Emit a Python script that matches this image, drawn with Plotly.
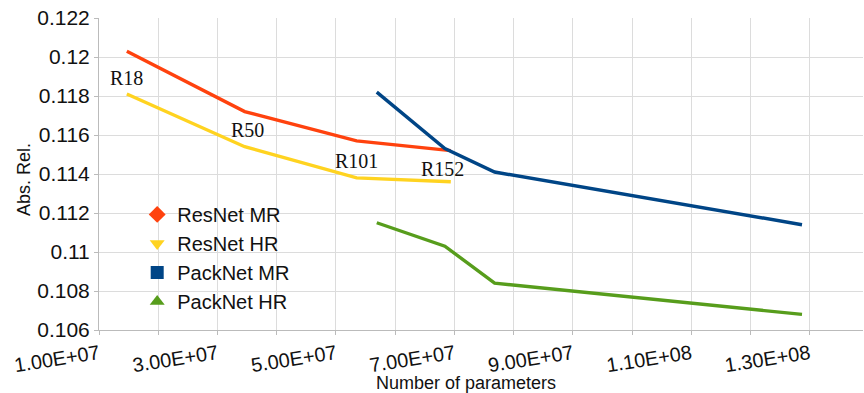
import plotly.graph_objects as go

resnet_labels = ["R18", "R50", "R101", "R152"]
resnet_params = [1.47e7, 3.46e7, 5.35e7, 6.94e7]
resnet_mr = [0.1203, 0.1172, 0.1157, 0.1152]
resnet_hr = [0.1181, 0.1154, 0.1138, 0.1136]

packnet_params = [5.69e7, 6.84e7, 7.68e7, 1.287e8]
packnet_mr = [0.1182, 0.1153, 0.1141, 0.1114]
packnet_hr = [0.1115, 0.1103, 0.1084, 0.1068]

x_tickvals = [1e7, 3e7, 5e7, 7e7, 9e7, 1.1e8, 1.3e8]
x_ticktext = ["1.00E+07", "3.00E+07", "5.00E+07", "7.00E+07", "9.00E+07", "1.10E+08", "1.30E+08"]
y_tickvals = [0.106, 0.108, 0.110, 0.112, 0.114, 0.116, 0.118, 0.120, 0.122]
y_ticktext = ["0.106", "0.108", "0.11", "0.112", "0.114", "0.116", "0.118", "0.12", "0.122"]

series = [
    ("ResNet MR", resnet_params, resnet_mr, "#FF420E", "diamond"),
    ("ResNet HR", resnet_params, resnet_hr, "#FFD320", "triangle-down"),
    ("PackNet MR", packnet_params, packnet_mr, "#004586", "square"),
    ("PackNet HR", packnet_params, packnet_hr, "#579D1C", "triangle-up"),
]

fig = go.Figure()
for name, xs, ys, color, sym in series:
    fig.add_trace(go.Scatter(x=xs, y=ys, mode="lines", name=name,
                             line=dict(color=color, width=3.4),
                             showlegend=False, hoverinfo="skip"))
for name, xs, ys, color, sym in series:
    fig.add_trace(go.Scatter(x=[None], y=[None], mode="markers", name=name,
                             marker=dict(color=color, symbol=sym, size=13)))

label_shift = [(0, 16), (3, 17), (0, 17), (-8, 13)]
for lab, xv, yv, (dx, dy) in zip(resnet_labels, resnet_params, resnet_hr, label_shift):
    fig.add_annotation(x=xv, y=yv, text=lab, showarrow=False, xshift=dx, yshift=dy,
                       font=dict(family="Liberation Serif", size=20, color="#111"))

fig.add_annotation(xref="paper", yref="paper", x=0.48, y=-0.17, yanchor="middle",
                   text="Number of parameters", showarrow=False,
                   font=dict(size=18, color="#111"))
fig.add_annotation(xref="paper", yref="paper", x=-0.098, y=0.481, xanchor="center",
                   yanchor="middle", textangle=-90,
                   text="Abs. Rel.", showarrow=False, font=dict(size=18, color="#111"))

grid = "#dcdcdc"
fig.update_layout(
    width=864, height=393,
    margin=dict(l=99, r=1, t=18, b=63),
    paper_bgcolor="white", plot_bgcolor="white",
    font=dict(family="Liberation Sans", color="#111"),
    legend=dict(x=0.05, y=0.433, xanchor="left", yanchor="top",
                bgcolor="rgba(0,0,0,0)", font=dict(size=20), tracegroupgap=0,
                itemwidth=30),
    xaxis=dict(range=[1e7, 1.39e8], tickvals=x_tickvals, ticktext=x_ticktext,
               tickangle=-9, tickfont=dict(size=20), showgrid=True, gridcolor=grid,
               showline=True, linecolor="#bbbbbb", ticks="outside", ticklen=4, tickcolor="#bbbbbb",
               minor=dict(dtick=1e7, tick0=0, showgrid=True, gridcolor=grid, ticks="outside",
                          ticklen=4, tickcolor="#bbbbbb"),
               zeroline=False),
    yaxis=dict(range=[0.106, 0.122], tickvals=y_tickvals, ticktext=y_ticktext,
               tickfont=dict(size=21), showgrid=True, gridcolor=grid,
               showline=True, linecolor="#bbbbbb", ticks="outside", ticklen=4, tickcolor="#bbbbbb",
               zeroline=False),
)

fig.write_html("out.html")
